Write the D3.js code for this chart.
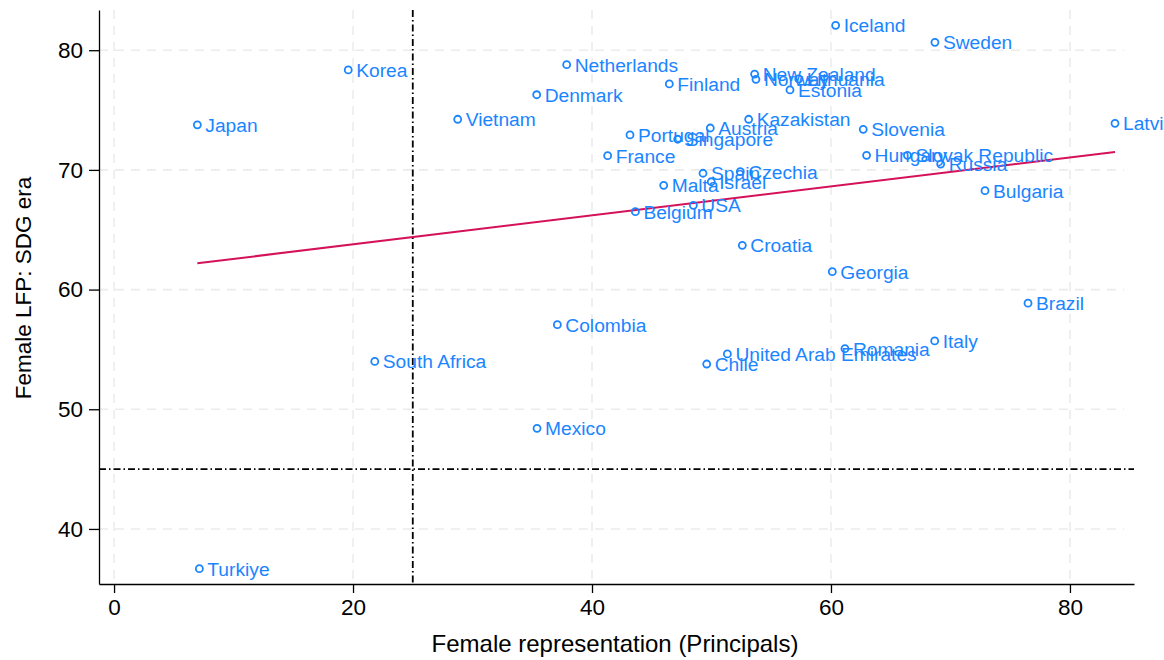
<!DOCTYPE html>
<meta charset="utf-8">
<script src="https://d3js.org/d3.v7.min.js"></script>
<style>
  body { margin: 0; background: #fff; }
  text { font-family: Arial, "Liberation Sans", Helvetica, sans-serif; }
  .lbl { fill: #1a85ff; font-size: 19.2px; }
  .tick text { font-size: 22.5px; fill: #000; }
</style>
<body>
<div id="chart"></div>
<script>
// country names, x = female principals (%), y = female LFP
var countries = ["Japan", "Korea", "Vietnam", "Denmark", "Netherlands", "Finland", "Iceland", "Sweden",
  "New Zealand", "Norway", "Lithuania", "Estonia", "Kazakistan", "Austria", "Portugal", "Singapore",
  "France", "Slovenia", "Hungary", "Slovak Republic", "Russia", "Latvia", "Bulgaria", "Brazil",
  "Spain", "Czechia", "Israel", "Malta", "USA", "Belgium", "Croatia", "Georgia",
  "Colombia", "United Arab Emirates", "Chile", "Romania", "Italy", "South Africa", "Mexico", "Turkiye"];
var principals = [6.97, 19.6, 28.76, 35.37, 37.88, 46.47, 60.39, 68.7,
  53.61, 53.72, 57.3, 56.57, 53.11, 49.9, 43.18, 47.17,
  41.31, 62.7, 62.98, 66.4, 69.18, 83.77, 72.89, 76.49,
  49.29, 52.41, 49.98, 46.0, 48.48, 43.63, 52.58, 60.11,
  37.1, 51.33, 49.6, 61.17, 68.68, 21.82, 35.4, 7.14];
var femaleLFP = [73.77, 78.35, 74.23, 76.28, 78.79, 77.18, 82.08, 80.66,
  78.01, 77.57, 77.6, 76.68, 74.23, 73.5, 72.92, 72.56,
  71.19, 73.39, 71.22, 71.22, 70.49, 73.89, 68.26, 58.86,
  69.72, 69.85, 69.01, 68.71, 67.04, 66.51, 63.7, 61.5,
  57.07, 54.62, 53.78, 55.06, 55.71, 54.0, 48.41, 36.68];

// fitted line end points
var fitX = [6.97, 83.77];
var fitY = [62.2, 71.5];

// reference lines
var refX = 25, refY = 45;

var xTicks = [0, 20, 40, 60, 80];
var yTicks = [40, 50, 60, 70, 80];

var margin = { top: 10, right: 30, bottom: 76, left: 99 },
    width = 1164 - margin.left - margin.right,
    height = 660 - margin.top - margin.bottom;

var svg = d3.select("#chart").append("svg")
    .attr("width", 1164)
    .attr("height", 660);

var g = svg.append("g")
    .attr("transform", "translate(" + margin.left + "," + margin.top + ")");

var x = d3.scaleLinear().domain([-1.26, 85.36]).range([0, width]);
var y = d3.scaleLinear().domain([35.4, 83.36]).range([height, 0]);

// grid
g.selectAll(".vgrid").data(xTicks).enter().append("line")
    .attr("x1", function(d) { return x(d); }).attr("x2", function(d) { return x(d); })
    .attr("y1", 0).attr("y2", height)
    .attr("stroke", "#ececec").attr("stroke-width", 1.6).attr("stroke-dasharray", "9,7");
g.selectAll(".hgrid").data(yTicks).enter().append("line")
    .attr("x1", 0).attr("x2", width - 10)
    .attr("y1", function(d) { return y(d); }).attr("y2", function(d) { return y(d); })
    .attr("stroke", "#ececec").attr("stroke-width", 1.6).attr("stroke-dasharray", "9,7");

// reference lines
g.append("line")
    .attr("x1", x(refX)).attr("x2", x(refX)).attr("y1", 0).attr("y2", height)
    .attr("stroke", "#000").attr("stroke-width", 1.8).attr("stroke-dasharray", "7,3,1.5,3");
g.append("line")
    .attr("x1", 0).attr("x2", width).attr("y1", y(refY)).attr("y2", y(refY))
    .attr("stroke", "#000").attr("stroke-width", 1.8).attr("stroke-dasharray", "7,3,1.5,3");

// axes
var xAxis = g.append("g")
    .attr("transform", "translate(0," + height + ")")
    .call(d3.axisBottom(x).tickValues(xTicks).tickSize(9).tickPadding(6).tickSizeOuter(0));
var yAxis = g.append("g")
    .call(d3.axisLeft(y).tickValues(yTicks).tickSize(10).tickPadding(6).tickSizeOuter(0));
[xAxis, yAxis].forEach(function(a) {
  a.select(".domain").attr("stroke", "#000").attr("stroke-width", 1.3);
  a.selectAll(".tick line").attr("stroke", "#000").attr("stroke-width", 1.3);
  a.attr("font-family", null).attr("font-size", null);
});

// fitted line
g.append("line")
    .attr("x1", x(fitX[0])).attr("y1", y(fitY[0]))
    .attr("x2", x(fitX[1])).attr("y2", y(fitY[1]))
    .attr("stroke", "#d41159").attr("stroke-width", 2);

// points and labels
var pts = countries.map(function(c, i) { return { name: c, px: principals[i], lfp: femaleLFP[i] }; });
g.selectAll(".pt").data(pts).enter().append("circle")
    .attr("cx", function(d) { return x(d.px); })
    .attr("cy", function(d) { return y(d.lfp); })
    .attr("r", 3.5)
    .attr("fill", "none")
    .attr("stroke", "#1a85ff")
    .attr("stroke-width", 1.8);
g.selectAll(".lbl").data(pts).enter().append("text")
    .attr("class", "lbl")
    .attr("x", function(d) { return x(d.px) + 8; })
    .attr("y", function(d) { return y(d.lfp); })
    .attr("dy", "0.36em")
    .text(function(d) { return d.name; });

// axis titles
svg.append("text")
    .attr("x", 615).attr("y", 652)
    .attr("text-anchor", "middle")
    .style("font-size", "24px")
    .text("Female representation (Principals)");
svg.append("text")
    .attr("transform", "translate(31,288) rotate(-90)")
    .attr("text-anchor", "middle")
    .style("font-size", "22.5px")
    .text("Female LFP: SDG era");
</script>
</body>
